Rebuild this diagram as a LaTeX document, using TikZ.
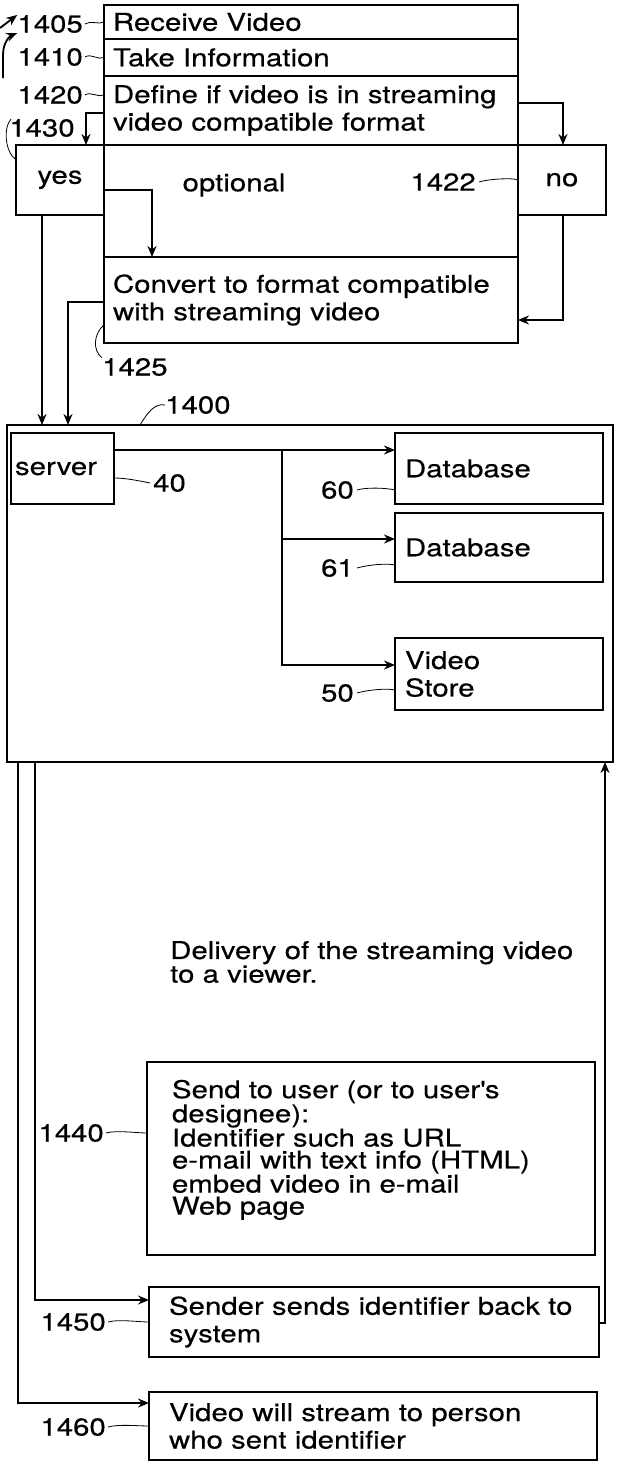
\documentclass[tikz,border=0pt]{standalone}
\usepackage{fontspec}
\setmainfont{TeX Gyre Heros}[FakeStretch=1.2,FakeBold=0.35]
\usetikzlibrary{arrows.meta,positioning}

\newcommand{\figfont}{\fontsize{24.5}{27.5}\selectfont}
\newcommand{\tightfont}{\fontsize{24.5}{22}\selectfont}

\begin{document}
\begin{tikzpicture}[x=1pt,y=-1pt,>={Stealth[length=11pt,width=9pt]},
    box/.style={draw,line width=2pt,anchor=north west,outer sep=0pt,inner ysep=0pt,align=left,font=\figfont},
    row/.style={box,text width=396pt,inner xsep=9pt},
    side/.style={box,align=center,text width=70pt,inner xsep=9pt,minimum height=69.5pt},
    store/.style={box,text width=188pt,inner xsep=10pt},
    num/.style={font=\figfont,inner sep=0pt},
    flow/.style={->,line width=1.8pt},
    lead/.style={line width=0.8pt}]

  \useasboundingbox (0,0) rectangle (616,1464);

  % column of steps
  \node[row,minimum height=34pt] (recv) at (104,5) {Receive Video};
  \node[row,minimum height=37pt,below=0pt of recv] (take) {Take Information};
  \node[row,minimum height=69pt,below=0pt of take] (define) {Define if video is in streaming\\video compatible format};
  \node[row,minimum height=112pt,below=0pt of define] (opt) {};
  \node[row,minimum height=86pt,below=0pt of opt] (convert) {Convert to format compatible\\with streaming video};
  \node[side,anchor=north east] (yes) at (opt.north west) {yes};
  \node[side] (no) at (opt.north east) {no};
  \node[num] (optional) at (234,185) {optional};

  \draw[flow] ([yshift=-2.5pt]define.west) -| ([xshift=26pt]yes.north);
  \draw[flow] ([yshift=7.5pt]define.east) -| ([xshift=1pt]no.north);
  \draw[flow] ([yshift=11pt]opt.west) -| (152,0 |- convert.north);
  \draw[flow] ([xshift=1pt]no.south) |- ([yshift=-20pt]convert.east);

  % system
  \node[box,minimum width=606pt,minimum height=337pt,inner xsep=0pt] (sys) at (7,425) {};
  \draw[flow] ([yshift=-2pt]convert.west) -| (68,0 |- sys.north);
  \draw[flow] ([xshift=-18pt]yes.south) -- ([xshift=-18pt]yes.south |- sys.north);

  \node[box,text width=95pt,inner xsep=4pt,minimum height=71pt] (server) at (11,433) {server};
  \node[store,minimum height=71pt] (db1) at (395,433) {Database};
  \node[store,minimum height=69pt,below=9pt of db1] (db2) {Database};
  \node[store,minimum height=72pt,below=56pt of db2] (vstore) {Video\\Store};

  \coordinate (split) at (282,450);
  \draw[flow] ([yshift=18.5pt]server.east) -- ([yshift=18.5pt]db1.west);
  \draw[flow] (split) |- ([yshift=8.5pt]db2.west);
  \draw[flow] (split) |- ([yshift=9pt]vstore.west);

  % delivery
  \node[font=\tightfont,align=left,inner sep=0pt,anchor=west] (deliver) at (170,962) {Delivery of the streaming video\\to a viewer.};
  \node[box,font=\tightfont,text width=398pt,inner xsep=25pt,minimum height=193pt,text depth=139pt] (send) at (147,1062) {Send to user (or to user\textquotesingle s\\designee):\\Identifier such as URL\\e-mail with text info (HTML)\\embed video in e-mail\\Web page};
  \node[box,text width=410pt,inner xsep=20pt,minimum height=70pt] (back) at (149,1287) {Sender sends identifier back to\\system};
  \node[box,text width=408pt,inner xsep=20pt,minimum height=68pt] (stream) at (149,1392) {Video will stream to person\\who sent identifier};

  \draw[flow] (18,0 |- sys.south) |- ([yshift=23pt]stream.west);
  \draw[flow] (35,0 |- sys.south) |- ([yshift=22pt]back.west);
  \draw[flow] ([yshift=-1pt]back.east) -| (605,0 |- sys.south);

  % reference numerals
  \node[num,anchor=east] (l1405) at (83,24) {1405};
  \node[num,anchor=east] (l1410) at (83,57) {1410};
  \node[num,anchor=east] (l1420) at (83,95) {1420};
  \node[num] (l1430) at (42,128) {1430};
  \node[num,anchor=east] (l1422) at (476,182) {1422};
  \node[num,anchor=west] (l1425) at (102,367) {1425};
  \node[num,anchor=west] (l1400) at (165,405) {1400};
  \node[num,anchor=west] (l40) at (153,483) {40};
  \node[num,anchor=east] (l60) at (354,490) {60};
  \node[num,anchor=east] (l61) at (354,568) {61};
  \node[num,anchor=east] (l50) at (354,693) {50};
  \node[num,anchor=east] (l1440) at (104,1133) {1440};
  \node[num,anchor=east] (l1450) at (106,1322) {1450};
  \node[num,anchor=east] (l1460) at (106,1427) {1460};

  \draw[lead] ([xshift=2pt]l1405.east) .. controls +(6,-4) and +(-6,3) .. (recv.west);
  \draw[lead] ([xshift=2pt]l1410.east) .. controls +(6,-4) and +(-6,3) .. (take.west);
  \draw[lead] ([xshift=2pt]l1420.east) .. controls +(6,-4) and +(-6,3) .. ([yshift=15.5pt]define.west);
  \draw[lead] ([xshift=2pt]l1430.north west) .. controls (3,128) and (5,152) .. ([yshift=20pt]yes.west);
  \draw[lead] ([xshift=3pt]l1422.east) .. controls +(10,-3) and +(-8,-2) .. (no.west);
  \draw[lead] ([yshift=-25pt]convert.west) .. controls (94,333) and (92,350) .. (l1425.north west);
  \draw[lead] (140,0 |- sys.north) .. controls (148,412) and (155,403) .. (l1400.west);
  \draw[lead] ([yshift=-9.5pt]server.east) .. controls +(12,0) and +(-10,-2) .. ([xshift=-3pt]l40.west);
  \draw[lead] ([xshift=3pt]l60.east) .. controls +(10,-3) and +(-8,-2) .. ([yshift=-21.5pt]db1.west);
  \draw[lead] ([xshift=3pt]l61.east) .. controls +(10,-3) and +(-8,-2) .. ([yshift=-17.5pt]db2.west);
  \draw[lead] ([xshift=3pt]l50.east) .. controls +(10,-3) and +(-8,-2) .. ([yshift=-16pt]vstore.west);
  \draw[lead] ([xshift=2pt]l1440.east) .. controls +(10,-3) and +(-10,0) .. ([yshift=25.5pt]send.west);
  \draw[lead] ([xshift=2pt]l1450.east) .. controls +(10,-3) and +(-10,0) .. (back.west);
  \draw[lead] ([xshift=2pt]l1460.east) .. controls +(10,-3) and +(-10,0) .. (stream.west);

  % arrows entering from the left edge
  \coordinate (in1) at (0,28);
  \coordinate (in2) at (3,78);
  \draw[flow] (in1) -- (l1405.north west);
  \draw[flow] (in2) -- (3,55) .. controls (3,42) and (10,36) .. (l1405.south west);
\end{tikzpicture}
\end{document}
